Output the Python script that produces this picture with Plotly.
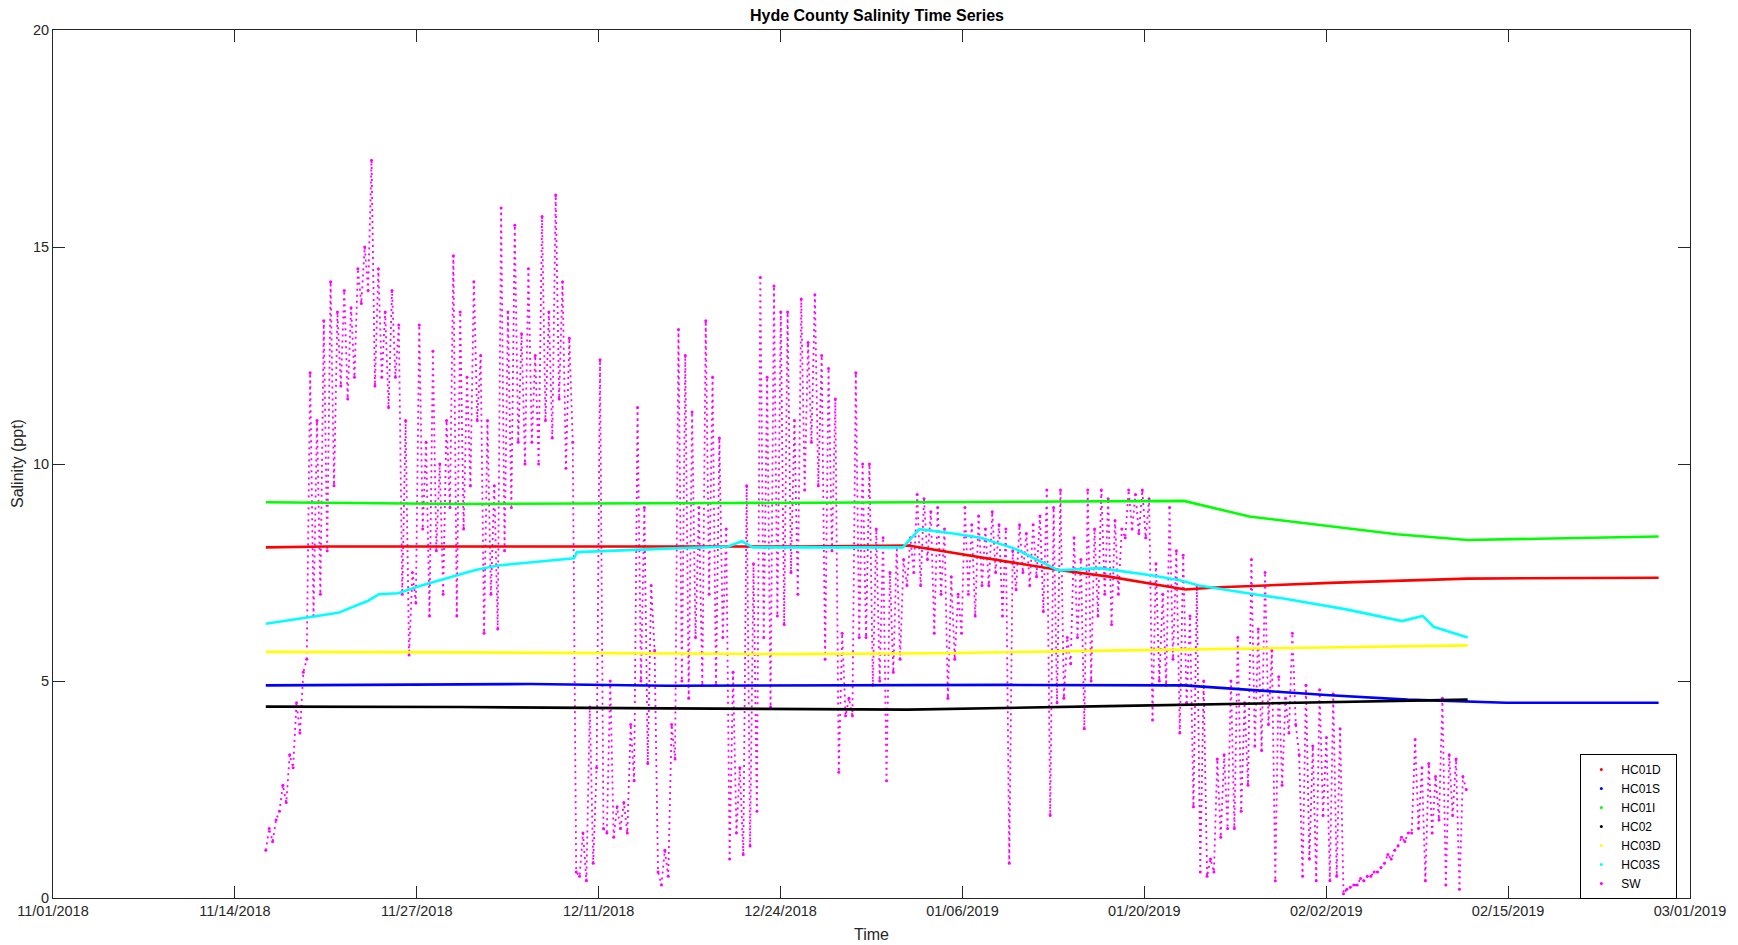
import plotly.graph_objects as go
import pandas as pd

# ---------------- data (days after 2018-11-01 00:00) ----------------
BASE = pd.Timestamp("2018-11-01")

hc01d_days = [15.6, 20, 30, 45, 55, 62.7, 69.2, 74.1, 77.3, 80.6, 83.0, 85.5, 88.4, 93.6, 103.7, 117.7]
hc01d_vals = [8.08, 8.1, 8.1, 8.1, 8.1, 8.12, 7.79, 7.54, 7.41, 7.23, 7.11, 7.16, 7.2, 7.26, 7.36, 7.38]

hc01s_days = [15.6, 30, 35, 45, 60, 70, 82.9, 87.7, 93.6, 99.3, 103.7, 106.5, 117.7]
hc01s_vals = [4.9, 4.91, 4.93, 4.89, 4.9, 4.91, 4.9, 4.8, 4.67, 4.57, 4.52, 4.5, 4.5]

hc01i_days = [15.6, 30, 50, 70, 82.9, 87.7, 93.3, 98.5, 103.7, 109.8, 117.7]
hc01i_vals = [9.12, 9.08, 9.1, 9.12, 9.15, 8.79, 8.58, 8.38, 8.25, 8.28, 8.33]

hc02_days = [15.6, 30, 45, 62.7, 77.3, 85.5, 93.6, 103.7]
hc02_vals = [4.41, 4.4, 4.37, 4.34, 4.42, 4.47, 4.52, 4.57]

hc03d_days = [15.6, 30, 53.3, 65, 77.3, 93.6, 103.7]
hc03d_vals = [5.67, 5.66, 5.62, 5.64, 5.7, 5.77, 5.82]

hc03s_days = [15.6, 20.9, 23.1, 23.9, 25.3, 26.7, 30.9, 32.6, 38.2, 38.4, 45, 49.5, 50.5,
              51.3, 62.3, 63.5, 66, 68, 70.5, 73.7, 76.7, 80.6, 82.6, 84, 88.4, 90.2,
              94.8, 98.9, 100.4, 101.2, 103.7]
hc03s_vals = [6.32, 6.57, 6.85, 7.0, 7.02, 7.17, 7.55, 7.66, 7.83, 7.97, 8.05, 8.1, 8.22,
              8.08, 8.08, 8.5, 8.4, 8.3, 8.05, 7.55, 7.6, 7.43, 7.32, 7.2, 6.98, 6.9,
              6.65, 6.38, 6.5, 6.25, 6.0]

# SW readings every 6 hours starting day 15.6
sw_start_day = 15.6
sw_vals = [
    1.1, 1.6, 1.3, 1.8,   2.0, 2.6, 2.2, 3.3,   3.0, 4.5, 3.8, 5.2,   5.5, 12.1, 6.5, 11.0,
    7.0, 13.3, 8.0, 14.2,  9.5, 13.5, 11.8, 14.0,  11.5, 13.6, 12.0, 14.5,  13.7, 15.0, 14.0, 17.0,
    11.8, 14.5, 12.0, 13.5,  11.3, 14.0, 12.0, 13.2,  7.0, 11.0, 5.6, 7.5,  6.8, 13.2, 8.5, 10.5,
    6.5, 12.6, 8.0, 10.0,  7.0, 11.0, 9.0, 14.8,  6.5, 13.5, 8.5, 12.0,  9.5, 14.2, 11.0, 12.5,
    6.1, 11.0, 7.0, 9.5,  6.2, 15.9, 8.0, 13.5,  9.0, 15.5, 10.5, 13.0,  10.0, 14.5, 10.5, 12.5,
    10.0, 15.7, 11.0, 13.5,  10.6, 16.2, 11.5, 14.2,  9.9, 12.9, 10.5, 0.6,  0.5, 1.5, 0.4, 4.4,
    0.8, 3.0, 12.4, 1.6,  1.5, 5.0, 1.4, 2.1,  1.6, 2.2, 1.5, 4.0,  2.7, 11.3, 5.0, 9.0,
    3.1, 7.2, 5.7, 0.6,  0.3, 1.1, 0.5, 4.0,  3.2, 13.1, 5.0, 12.5,  4.6, 11.2, 6.0, 9.0,
    4.9, 13.3, 7.0, 12.0,  4.9, 10.6, 6.0, 8.5,  0.9, 5.2, 1.5, 3.0,  1.0, 9.5, 1.2, 7.7,
    2.0, 14.3, 6.0, 12.0,  4.4, 14.1, 6.5, 13.5,  6.3, 13.5, 7.5, 11.0,  7.0, 13.8, 9.4, 12.8,
    10.5, 13.9, 9.5, 12.5,  5.5, 12.2, 8.0, 11.5,  2.9, 6.1, 4.2, 4.6,  4.2, 12.1, 6.0, 10.0,
    6.0, 10.0, 4.9, 8.5,  5.0, 8.3, 2.7, 7.5,  5.2, 8.1, 5.5, 7.8,  7.2, 8.3, 7.5, 9.3,
    7.2, 9.2, 7.8, 8.9,  6.1, 9.0, 7.0, 8.5,  4.6, 7.4, 5.5, 7.0,  6.1, 9.0, 7.0, 8.6,
    6.5, 8.8, 7.2, 8.5,  7.2, 8.9, 7.5, 8.6,  6.5, 8.5, 0.8, 8.0,  7.1, 8.6, 7.5, 8.4,
    7.2, 8.6, 7.4, 8.8,  6.6, 9.4, 1.9, 9.0,  4.5, 9.4, 4.6, 6.0,  5.4, 8.3, 6.0, 7.8,
    3.9, 9.4, 5.0, 8.5,  6.5, 9.4, 7.0, 9.2,  6.3, 8.7, 7.0, 8.5,  8.3, 9.4, 8.5, 9.3,
    8.4, 9.4, 8.3, 9.2,  4.1, 7.7, 5.0, 7.0,  4.9, 9.0, 5.5, 8.0,  3.8, 7.9, 4.5, 6.5,
    2.1, 7.2, 0.6, 5.0,  0.5, 0.9, 0.6, 3.2,  1.4, 3.3, 1.6, 5.0,  1.6, 6.0, 2.0, 4.5,
    2.6, 7.8, 3.5, 6.2,  3.4, 7.5, 4.0, 5.7,  0.4, 5.1, 2.6, 4.6,  3.8, 6.1, 4.0, 3.3,
    0.5, 4.9, 0.9, 3.5,  0.4, 4.8, 1.9, 3.7,  0.4, 4.7, 0.5, 3.9,  0.1, 0.2, 0.25, 0.3,
    0.3, 0.45, 0.4, 0.5,  0.5, 0.6, 0.6, 0.7,  0.8, 1.0, 0.9, 1.1,  1.2, 1.4, 1.3, 1.5,
    1.5, 3.65, 1.6, 3.0,  0.4, 3.1, 1.5, 2.8,  1.8, 4.6, 0.3, 3.3,  1.9, 3.2, 0.2, 2.8,
    2.5,
]

tick_labels = ["11/01/2018", "11/14/2018", "11/27/2018", "12/11/2018", "12/24/2018",
               "01/06/2019", "01/20/2019", "02/02/2019", "02/15/2019", "03/01/2019"]
y_ticks = [0, 5, 10, 15, 20]

series = [
    ("HC01D", "#FF0000", hc01d_days, hc01d_vals),
    ("HC01S", "#0000FF", hc01s_days, hc01s_vals),
    ("HC01I", "#00FF00", hc01i_days, hc01i_vals),
    ("HC02", "#000000", hc02_days, hc02_vals),
    ("HC03D", "#FFFF00", hc03d_days, hc03d_vals),
    ("HC03S", "#00FFFF", hc03s_days, hc03s_vals),
]
SW_COLOR = "#FF00FF"


def to_dt(days):
    return [BASE + pd.Timedelta(days=d) for d in days]


fig = go.Figure()

# SW scatter (drawn first, underneath): dotted streaks between readings
sw_times = [BASE + pd.Timedelta(days=sw_start_day) + pd.Timedelta(hours=6 * i) for i in range(len(sw_vals))]
fig.add_trace(go.Scatter(x=sw_times, y=sw_vals, mode="lines+markers",
                         line=dict(color=SW_COLOR, width=1.8, dash="2px,4px"),
                         marker=dict(color=SW_COLOR, size=3),
                         showlegend=False, hoverinfo="skip"))

for name, col, d, v in series:
    fig.add_trace(go.Scatter(x=to_dt(d), y=v, mode="lines",
                             line=dict(color=col, width=2.6),
                             showlegend=False, name=name))

# legend entries (dots, as in the original)
for name, col, _, _ in series + [("SW", SW_COLOR, None, None)]:
    fig.add_trace(go.Scatter(x=[None], y=[None], mode="markers",
                             name=name + "&nbsp;&nbsp;&nbsp;",
                             marker=dict(color=col, size=3), showlegend=True))

x0 = BASE
x1 = pd.Timestamp("2019-03-01")
span = (x1 - x0)
tick_vals = [x0 + span * (i / 9) for i in range(10)]

axis_col = "#262626"
W, H = 1738, 945
fig.update_layout(
    width=W, height=H,
    paper_bgcolor="white", plot_bgcolor="white",
    margin=dict(l=45, r=56, t=22, b=55),
    font=dict(family="Liberation Sans, Arial, sans-serif", size=14, color=axis_col),
    title=dict(text="<b>Hyde County Salinity Time Series</b>", x=0.5, xanchor="center",
               y=1 - 7 / H, yanchor="middle", font=dict(size=16, color="#000000")),
    xaxis=dict(range=[x0, x1], tickvals=tick_vals, ticktext=tick_labels,
               showgrid=False, zeroline=False, showline=True, linecolor=axis_col, linewidth=1,
               mirror="ticks", ticks="inside", ticklen=12, tickcolor=axis_col,
               tickfont=dict(size=14.5), automargin=False),
    yaxis=dict(range=[0, 20], tickvals=y_ticks, showgrid=False, zeroline=False,
               showline=True, linecolor=axis_col, linewidth=1, mirror="ticks",
               ticks="inside", ticklen=12, tickcolor=axis_col, tickfont=dict(size=14.5),
               automargin=False),
    legend=dict(x=0.933, y=0.166, xanchor="left", yanchor="top",
                bgcolor="white", bordercolor="#000000", borderwidth=1,
                font=dict(size=12, color="#000000"), itemwidth=30, tracegroupgap=0),
    annotations=[
        dict(text="Time", xref="paper", yref="paper", x=0.5, y=0, yshift=-36,
             xanchor="center", yanchor="middle", showarrow=False, font=dict(size=16)),
        dict(text="Salinity (ppt)", xref="paper", yref="paper", x=0, y=0.5, xshift=-36,
             xanchor="center", yanchor="middle", textangle=-90, showarrow=False,
             font=dict(size=16)),
    ],
)

fig.write_html("out.html")
